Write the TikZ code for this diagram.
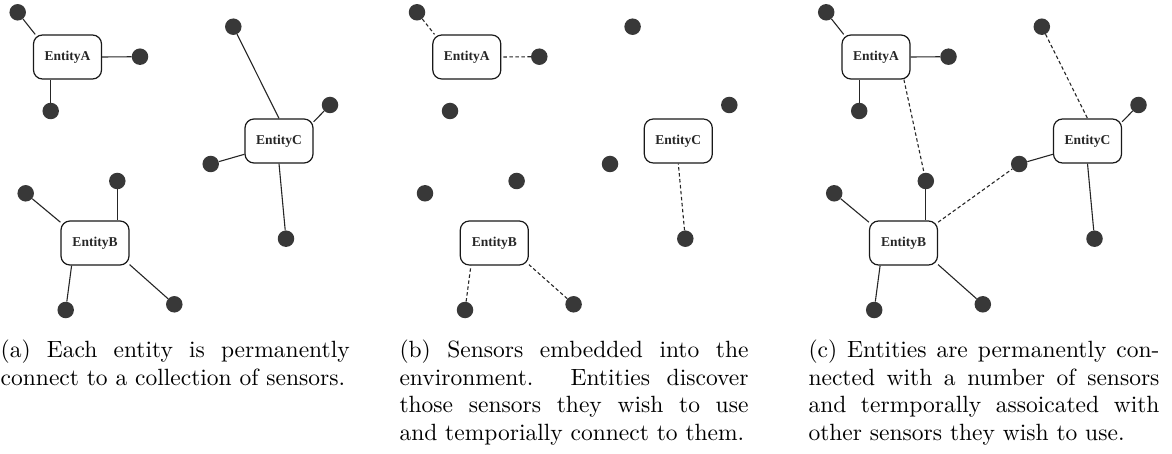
\documentclass[tikz,border=0pt]{standalone}
\usepackage{fontspec}
\newfontfamily\entfont{Liberation Serif}
\newfontfamily\capfont{lmroman10-regular.otf}
\newcommand\jline[1]{\makebox[349pt][s]{#1}\\}

\tikzset{
  entity/.style={draw=black!90, rounded corners=9pt, minimum width=68pt,
    minimum height=44pt, inner sep=0pt, line width=1.2pt, text=black!85,
    font=\fontsize{13.5}{16}\entfont\bfseries},
  sensor/.style={circle, fill=black!78, minimum size=16.5pt, inner sep=0pt},
  link/.style={line width=1.1pt, draw=black!85},
  tmplink/.style={link, dash pattern=on 3.5pt off 2.5pt},
  captext/.style={anchor=base west, inner sep=0pt,
    font=\fontsize{23.5}{27.5}\capfont}
}

% entities and sensors of one panel; #1 prefixes the node names
\newcommand\panelnodes[1]{%
  \node[entity] (#1A) at (67.5,57)  {EntityA};
  \node[entity] (#1B) at (95,243)   {EntityB};
  \node[entity] (#1C) at (279,141)  {EntityC};
  \node[sensor] (#1a1) at (17.7,12.3) {};
  \node[sensor] (#1a2) at (140,56.7)  {};
  \node[sensor] (#1a3) at (50.7,111)  {};
  \node[sensor] (#1b1) at (25.7,193.3) {};
  \node[sensor] (#1b2) at (117.3,181)  {};
  \node[sensor] (#1b3) at (65.7,310)   {};
  \node[sensor] (#1b4) at (174.3,304.3) {};
  \node[sensor] (#1c1) at (233.3,26.7) {};
  \node[sensor] (#1c2) at (330,105)    {};
  \node[sensor] (#1c3) at (210.7,164)  {};
  \node[sensor] (#1c4) at (286,238.7)  {};
}

\begin{document}
\begin{tikzpicture}[x=1pt,y=-1pt]
\useasboundingbox (0,0) rectangle (1172,454);

% (a) fixed sensors only
\begin{scope}
  \panelnodes{p}
  \draw[link] (pa1) -- (pA.145);
  \draw[link] (pa2) -- (pA.east);
  \draw[link] (pa3) -- (pa3 |- pA.south);
  \draw[link] (pb1) -- (pB.149);
  \draw[link] (pb2) -- (pb2 |- pB.north);
  \draw[link] (pb3) -- (pB.224);
  \draw[link] (pb4) -- (pB.328);
  \draw[link] (pc1) -- (pC.north);
  \draw[link] (pc2) -- (pC.29);
  \draw[link] (pc3) -- (pC.201);
  \draw[link] (pc4) -- (pC.south);
\end{scope}

% (b) discovered sensors, temporary links
\begin{scope}[xshift=399.3pt]
  \panelnodes{q}
  \draw[tmplink] (qa1) -- (qA.145);
  \draw[tmplink] (qa2) -- (qA.east);
  \draw[tmplink] (qb3) -- (qB.224);
  \draw[tmplink] (qb4) -- (qB.328);
  \draw[tmplink] (qc4) -- (qC.south);
\end{scope}

% (c) fixed plus temporary links
\begin{scope}[xshift=808.5pt]
  \panelnodes{r}
  \draw[link] (ra1) -- (rA.145);
  \draw[link] (ra2) -- (rA.east);
  \draw[link] (ra3) -- (ra3 |- rA.south);
  \draw[link] (rb1) -- (rB.149);
  \draw[link] (rb2) -- (rb2 |- rB.north);
  \draw[link] (rb3) -- (rB.224);
  \draw[link] (rb4) -- (rB.328);
  \draw[link] (rc2) -- (rC.29);
  \draw[link] (rc3) -- (rC.201);
  \draw[link] (rc4) -- (rC.south);
  \draw[tmplink] (rc1) -- (rC.north);
  \draw[tmplink] (rA.321) -- (rb2);
  \draw[tmplink] (rB.31) -- (rc3);
\end{scope}

% captions
\node[captext] (capa) at (0.5,357.5) {\parbox[t]{349pt}{%
  \jline{(a) Each entity is permanently}%
  connect to a collection of sensors.}};
\node[captext] (capb) at (399.3,357.5) {\parbox[t]{349pt}{%
  \jline{(b) Sensors embedded into the}%
  \jline{environment. Entities discover}%
  \jline{those sensors they wish to use}%
  and temporially connect to them.}};
\node[captext] (capc) at (808.3,357.5) {\parbox[t]{351pt}{%
  \makebox[351pt][s]{(c) Entities are permanently con-}\\
  \makebox[351pt][s]{nected with a number of sensors}\\
  \makebox[351pt][s]{and termporally assoicated with}\\
  other sensors they wish to use.}};
\end{tikzpicture}
\end{document}
